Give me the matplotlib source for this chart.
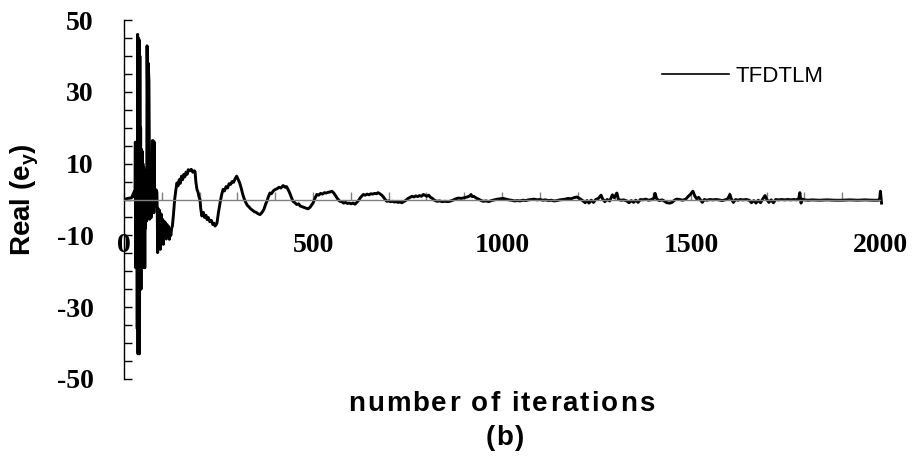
import matplotlib
matplotlib.use("Agg")
import matplotlib.pyplot as plt
from matplotlib.ticker import FixedLocator, MultipleLocator
import numpy as np

# --- data (iteration, Real(e_y)) ---
iterations = [
    0, 10, 20, 24, 27, 29, 30, 31, 32, 33, 34, 35, 36, 37, 38, 39, 40, 41, 42, 43,
    44, 45, 46, 47, 48, 49, 50, 51, 52, 53, 54, 55, 56, 57, 58, 60, 61, 62, 63, 64,
    66, 68, 70, 72, 74, 75, 77, 79, 80, 81, 83, 85, 87, 88, 89, 90, 92, 94, 96, 98,
    100, 102, 104, 106, 108, 110, 112, 114, 116, 118, 120, 122, 124, 126, 128, 131, 134, 137, 140, 143,
    146, 149, 152, 155, 158, 161, 164, 167, 170, 174, 178, 182, 186, 188, 190, 193, 196, 199, 201, 203,
    206, 210, 213, 217, 220, 223, 227, 231, 235, 238, 241, 244, 246, 250, 254, 258, 262, 266, 270, 274,
    278, 282, 286, 290, 294, 298, 302, 306, 310, 314, 318, 322, 326, 330, 335, 340, 345, 350, 355, 360,
    365, 370, 375, 378, 382, 386, 390, 395, 400, 405, 410, 415, 421, 426, 430, 434, 438, 442, 447, 452,
    457, 462, 466, 471, 476, 481, 487, 492, 496, 500, 505, 510, 515, 520, 525, 530, 535, 540, 545, 550,
    555, 560, 565, 571, 576, 581, 586, 591, 596, 601, 606, 611, 616, 621, 626, 633, 638, 643, 648, 653,
    658, 663, 668, 672, 677, 682, 687, 691, 695, 700, 705, 710, 715, 720, 725, 730, 735, 740, 745, 750,
    755, 762, 767, 772, 777, 782, 787, 792, 796, 801, 806, 811, 816, 821, 828, 835, 842, 849, 855, 862,
    870, 878, 885, 892, 900, 908, 915, 918, 921, 925, 932, 940, 945, 950, 958, 965, 972, 980, 988, 995,
    1003, 1010, 1018, 1025, 1033, 1040, 1048, 1055, 1063, 1070, 1078, 1085, 1093, 1100, 1108, 1115, 1123, 1130, 1138, 1145,
    1153, 1160, 1168, 1175, 1183, 1190, 1198, 1205, 1212, 1220, 1225, 1230, 1236, 1242, 1248, 1255, 1262, 1266, 1272, 1278,
    1285, 1292, 1297, 1304, 1308, 1315, 1322, 1330, 1336, 1342, 1348, 1354, 1360, 1366, 1372, 1380, 1388, 1396, 1402, 1405,
    1409, 1416, 1424, 1430, 1436, 1444, 1450, 1456, 1462, 1470, 1478, 1486, 1492, 1498, 1505, 1510, 1515, 1520, 1525, 1530,
    1535, 1542, 1550, 1558, 1566, 1574, 1582, 1590, 1597, 1603, 1606, 1612, 1618, 1624, 1630, 1638, 1646, 1654, 1660, 1666,
    1672, 1678, 1684, 1690, 1696, 1700, 1706, 1712, 1718, 1724, 1732, 1740, 1748, 1756, 1764, 1772, 1780, 1785, 1788, 1791,
    1795, 1800, 1810, 1820, 1840, 1860, 1880, 1900, 1920, 1940, 1960, 1980, 1996, 1999, 2001, 2004,
]
real_ey = [
    0, 0.3, 0.5, 1.5, 2.2, 0.5, 16, -19, 15.5, -10, 12, -36, 46, -43, 45, -30, 44.5, -43, 40, -20,
    20, -25, 14, -15, 13.5, -12, 10, -14.5, 9, -19, 8, -19, 5, -8, 3, -6, 42.8, 30, -5, 38,
    33, -5.5, -3, -5, -2, 16.4, 16.4, -3.7, 16, -2, 1, 2.7, 2, -3, -14.8, -2.5, -12, -3, -13.9, -4,
    -11, -5.5, -12.5, -6, -9.5, -6.5, -11, -7, -10.5, -7.5, -11.1, -9, -10, -8, -7.4, -4, 0, 2.5, 4.6, 3.8,
    5.5, 4.5, 6.5, 5.5, 7, 6.3, 7.6, 7, 8.3, 8, 8.4, 7.6, 8, 7.8, 5, 2.8, 2, 0.5, 0, -2.5,
    -4.6, -3.6, -5, -4.4, -5.6, -5, -6.2, -5.8, -7, -6.6, -7.4, -7, -6.5, -3.5, -1, 1.2, 2.8, 2.4, 3.6, 3.2,
    4.4, 4.2, 5, 4.8, 5.8, 6.5, 5.6, 4.6, 3.2, 1.5, 0.2, -0.8, -1.6, -2, -2.6, -3, -3.4, -3.6, -4, -4.2,
    -3.6, -2.8, -1.2, -0.5, 0.8, 1.8, 1.6, 2.4, 2.8, 3, 3.4, 3.2, 3.9, 3.4, 3.6, 2.8, 1.9, 0.8, -0.5, -0.9,
    -1.4, -1.2, -1.8, -2, -2.2, -2.4, -2.6, -2.2, -1.6, -1, 0.3, 1.4, 1.2, 1.7, 1.5, 1.9, 1.8, 2, 2.1, 2.3,
    1.8, 1, 0.2, -0.5, -0.6, -1, -0.8, -1.1, -1, -1.2, -1, -1.3, -0.8, -0.2, 0.6, 1.4, 1.2, 1.5, 1.3, 1.6,
    1.5, 1.7, 1.6, 1.9, 1.6, 1.2, 0.6, 0, -0.5, -0.4, -0.6, -0.5, -0.7, -0.6, -0.8, -0.7, -0.9, -0.6, -0.3, 0.2,
    0.5, 0.9, 0.7, 1, 0.8, 1.1, 0.9, 1.4, 1.2, 0.9, 1.2, 0.6, 0.3, -0.2, -0.5, -0.4, -0.6, -0.5, -0.6, -0.5,
    -0.2, 0.2, 0.4, 0.3, 0.5, 0.7, 1, 1.4, 0.8, 0.9, 0.4, 0, -0.3, -0.5, -0.4, -0.6, -0.3, -0.1, 0.1, 0.2,
    0.3, 0.1, -0.1, -0.2, -0.4, -0.3, -0.4, -0.2, -0.3, -0.1, 0, 0.1, -0.1, 0, -0.2, -0.1, -0.3, -0.2, -0.4, -0.3,
    -0.1, 0, 0.1, 0.3, 0.2, 0.5, 0.7, 0.3, -0.2, -0.9, -0.3, -1, -0.2, -0.8, 0, 0.3, 1.2, 0.2, -0.6, 0,
    -0.4, 1.3, 0.5, 1.8, 0, -0.2, -0.1, -0.4, -0.9, -0.3, -0.8, -0.2, -0.8, 0, -0.1, 0.1, -0.2, 0, 0.4, 1.7,
    0.2, -0.3, -0.1, -0.5, -0.9, -1, -0.8, -0.2, 0.1, 0, -0.2, 0.1, 0.8, 1.4, 2.3, 1, 0.2, 0.6, -0.1, -0.8,
    0, -0.2, 0, -0.1, 0, -0.1, -0.3, -0.1, 0.2, 1.4, 0.3, -0.8, 0, -0.2, 0, -0.1, 0, -0.2, -0.9, -0.3,
    -1, -0.2, -0.9, 0.2, 1.1, 0.1, -0.8, -0.1, -0.9, 0, -0.1, 0, -0.1, 0, -0.1, 0, -0.1, 0.3, 1.9, -1,
    0.1, -0.1, -0.2, -0.1, -0.2, -0.1, -0.2, -0.2, -0.1, -0.2, -0.1, -0.2, -0.2, 0, 2.3, -1,
]

y_major = [-50, -30, -10, 10, 30, 50]
x_major = [0, 500, 1000, 1500, 2000]
series_label = "TFDTLM"
x_title = "number of iterations"
panel_tag = "(b)"

SANS = "Liberation Sans"
SERIF = "Liberation Serif"
W, H = 920, 459


def spaced_text(fig, renderer, cx_px, cy_px, s, tracking_px, **kw):
    """Draw s centred at (cx_px, cy_px) with extra letter spacing."""
    def width(txt):
        t = fig.text(0, 0, txt, **kw)
        w = t.get_window_extent(renderer).width
        t.remove()
        return w
    ref = width("x")
    lefts = [0.0] + [width(s[:i] + "x") - ref for i in range(1, len(s))]
    total = width(s) + tracking_px * (len(s) - 1)
    x0 = cx_px - total / 2
    for i, ch in enumerate(s):
        if ch == " ":
            continue
        fig.text((x0 + lefts[i] + i * tracking_px) / W, 1 - cy_px / H, ch,
                 ha="left", va="center", **kw)


fig = plt.figure(figsize=(W / 100, H / 100), dpi=100)
ax = fig.add_axes([124 / W, 1 - 379 / H, (883.8 - 124) / W, 359 / H])

ax.plot(iterations, real_ey, color="black", linewidth=2.1, label=series_label)

ax.set_xlim(0, 2010)
ax.set_ylim(-50, 50)

# spines: y axis on the left, gray x axis through zero
for side in ("top", "right"):
    ax.spines[side].set_visible(False)
ax.spines["left"].set_linewidth(1.0)
ax.spines["bottom"].set_position(("data", 0))
ax.spines["bottom"].set_color("#808080")
ax.spines["bottom"].set_linewidth(1.0)
ax.spines["bottom"].set_bounds(0, 2000)

ax.yaxis.set_major_locator(FixedLocator(y_major))
ax.yaxis.set_minor_locator(MultipleLocator(5))
ax.xaxis.set_major_locator(FixedLocator(x_major))
ax.xaxis.set_minor_locator(FixedLocator(np.arange(0, 2001, 100)))

ax.tick_params(axis="y", which="both", direction="in", length=6, width=1,
               color="black", pad=22)
ax.tick_params(axis="x", which="both", direction="in", length=5.5, width=1,
               color="#808080", pad=24)

ax.set_yticklabels([str(v) for v in y_major])
ax.set_xticklabels([str(v) for v in x_major])
for lab in ax.get_yticklabels() + ax.get_xticklabels():
    lab.set_fontfamily(SERIF)
    lab.set_fontweight("bold")
    lab.set_fontsize(20)

renderer = fig.canvas.get_renderer()

# axis titles
fig.text(25 / W, 1 - 200 / H, r"Real (e$_\mathregular{y}$)", rotation=90,
         ha="center", va="center", fontsize=20, fontweight="bold", family=SANS)
spaced_text(fig, renderer, 501, 404, x_title, 2.0,
            fontsize=20, fontweight="bold", family=SANS)
spaced_text(fig, renderer, 505, 438, panel_tag, 2.0,
            fontsize=20, fontweight="bold", family=SANS)

leg = ax.legend(loc="center left", bbox_to_anchor=(662 / W, 1 - 76 / H),
                bbox_transform=fig.transFigure, frameon=False,
                prop={"family": SANS, "size": 16},
                handlelength=3.0, handletextpad=0.3, borderpad=0, borderaxespad=0)
for line in leg.get_lines():
    line.set_linewidth(1.2)

fig.savefig("out.png", dpi=100)
